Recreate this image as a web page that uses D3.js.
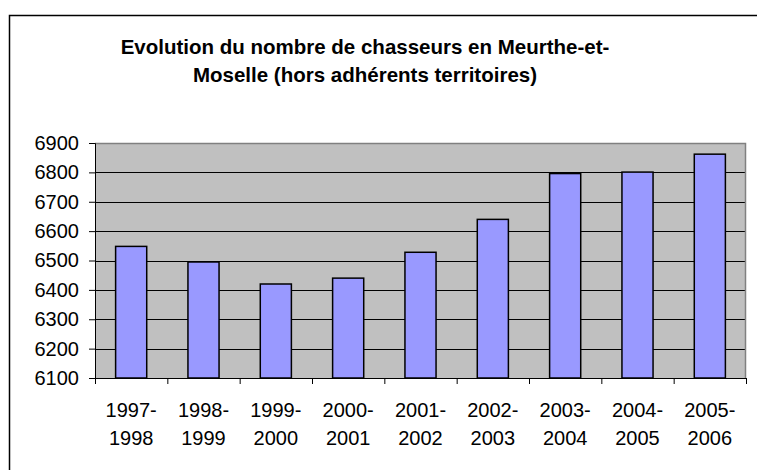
<!DOCTYPE html>
<html>
<head>
<meta charset="utf-8">
<script src="https://cdn.jsdelivr.net/npm/d3@7"></script>
<style>
  body { margin: 0; background: #fff; }
  text { font-family: "Liberation Sans", Arial, sans-serif; fill: #000; }
</style>
</head>
<body>
<svg id="plot"></svg>
<script>
// Data
const seasonStart = ["1997-", "1998-", "1999-", "2000-", "2001-", "2002-", "2003-", "2004-", "2005-"];
const seasonEnd = ["1998", "1999", "2000", "2001", "2002", "2003", "2004", "2005", "2006"];
const hunters = [6548, 6495, 6420, 6440, 6528, 6640, 6796, 6801, 6862];
const yTicks = [6100, 6200, 6300, 6400, 6500, 6600, 6700, 6800, 6900];
const titleLines = ["Evolution du nombre de chasseurs en Meurthe-et-", "Moselle (hors adhérents territoires)"];

const W = 757, H = 470;
const margin = { top: 143, right: 11, bottom: 92, left: 95 };
const width = W - margin.left - margin.right;
const height = H - margin.top - margin.bottom;

const svg = d3.select("#plot")
    .attr("width", W)
    .attr("height", H);

// Outer chart frame (runs off the bottom/right of the picture)
svg.append("rect")
    .attr("x", 9.5).attr("y", 15.5)
    .attr("width", 800).attr("height", 500)
    .attr("fill", "#fff")
    .attr("stroke", "#000")
    .attr("stroke-width", 1.5);

// Title
svg.append("text")
    .attr("x", 365)
    .attr("text-anchor", "middle")
    .style("font-weight", "bold")
    .style("font-size", "20.5px")
    .selectAll("tspan")
    .data(titleLines)
    .enter().append("tspan")
    .attr("x", 365)
    .attr("y", (d, i) => 54 + i * 28)
    .text(d => d);

const g = svg.append("g")
    .attr("transform", `translate(${margin.left},${margin.top})`);

const x = d3.scaleBand()
    .domain(d3.range(hunters.length))
    .range([0, width])
    .paddingInner(0.57)
    .paddingOuter(0.285);

const xCat = d3.scaleLinear()
    .domain([0, hunters.length])
    .range([0, width]);

const y = d3.scaleLinear()
    .domain([6100, 6900])
    .range([height, 0]);

// Plot area
g.append("rect")
    .attr("width", width)
    .attr("height", height)
    .attr("fill", "#c0c0c0");

// Gridlines
g.selectAll(".grid")
    .data(yTicks.slice(1, -1))
    .enter().append("line")
    .attr("x1", 0).attr("x2", width)
    .attr("y1", d => Math.round(y(d)) + 0.5)
    .attr("y2", d => Math.round(y(d)) + 0.5)
    .attr("stroke", "#000");

// Plot area border top/right in grey
g.append("path")
    .attr("d", `M0,${y(6900) + 0.5}H${width - 0.5}V${height}`)
    .attr("fill", "none")
    .attr("stroke", "#808080")
    .attr("stroke-width", 1.5);

// Bars
g.selectAll(".bar")
    .data(hunters)
    .enter().append("rect")
    .attr("class", "bar")
    .attr("x", (d, i) => x(i))
    .attr("width", x.bandwidth())
    .attr("y", d => y(d))
    .attr("height", d => height - y(d))
    .attr("fill", "#9999ff")
    .attr("stroke", "#000")
    .attr("stroke-width", 1.5);

// Y axis
const yAxis = g.append("g")
    .call(d3.axisLeft(y).tickValues(yTicks).tickSize(6).tickPadding(10).tickFormat(d3.format("d")));
yAxis.selectAll("text").style("font-size", "20px");
yAxis.selectAll("line, path").attr("stroke", "#000");

// X axis
const xAxis = g.append("g")
    .attr("transform", `translate(0,${height})`)
    .call(d3.axisBottom(xCat).ticks(hunters.length).tickSize(6).tickFormat(""));
xAxis.selectAll("line, path").attr("stroke", "#000");

// Category labels (two lines)
const labels = g.selectAll(".xlabel")
    .data(seasonStart)
    .enter().append("text")
    .attr("class", "xlabel")
    .attr("text-anchor", "middle")
    .style("font-size", "20px");
labels.append("tspan")
    .attr("x", (d, i) => x(i) + x.bandwidth() / 2)
    .attr("y", height + 39)
    .text(d => d);
labels.append("tspan")
    .attr("x", (d, i) => x(i) + x.bandwidth() / 2)
    .attr("y", height + 67)
    .text((d, i) => seasonEnd[i]);
</script>
</body>
</html>
